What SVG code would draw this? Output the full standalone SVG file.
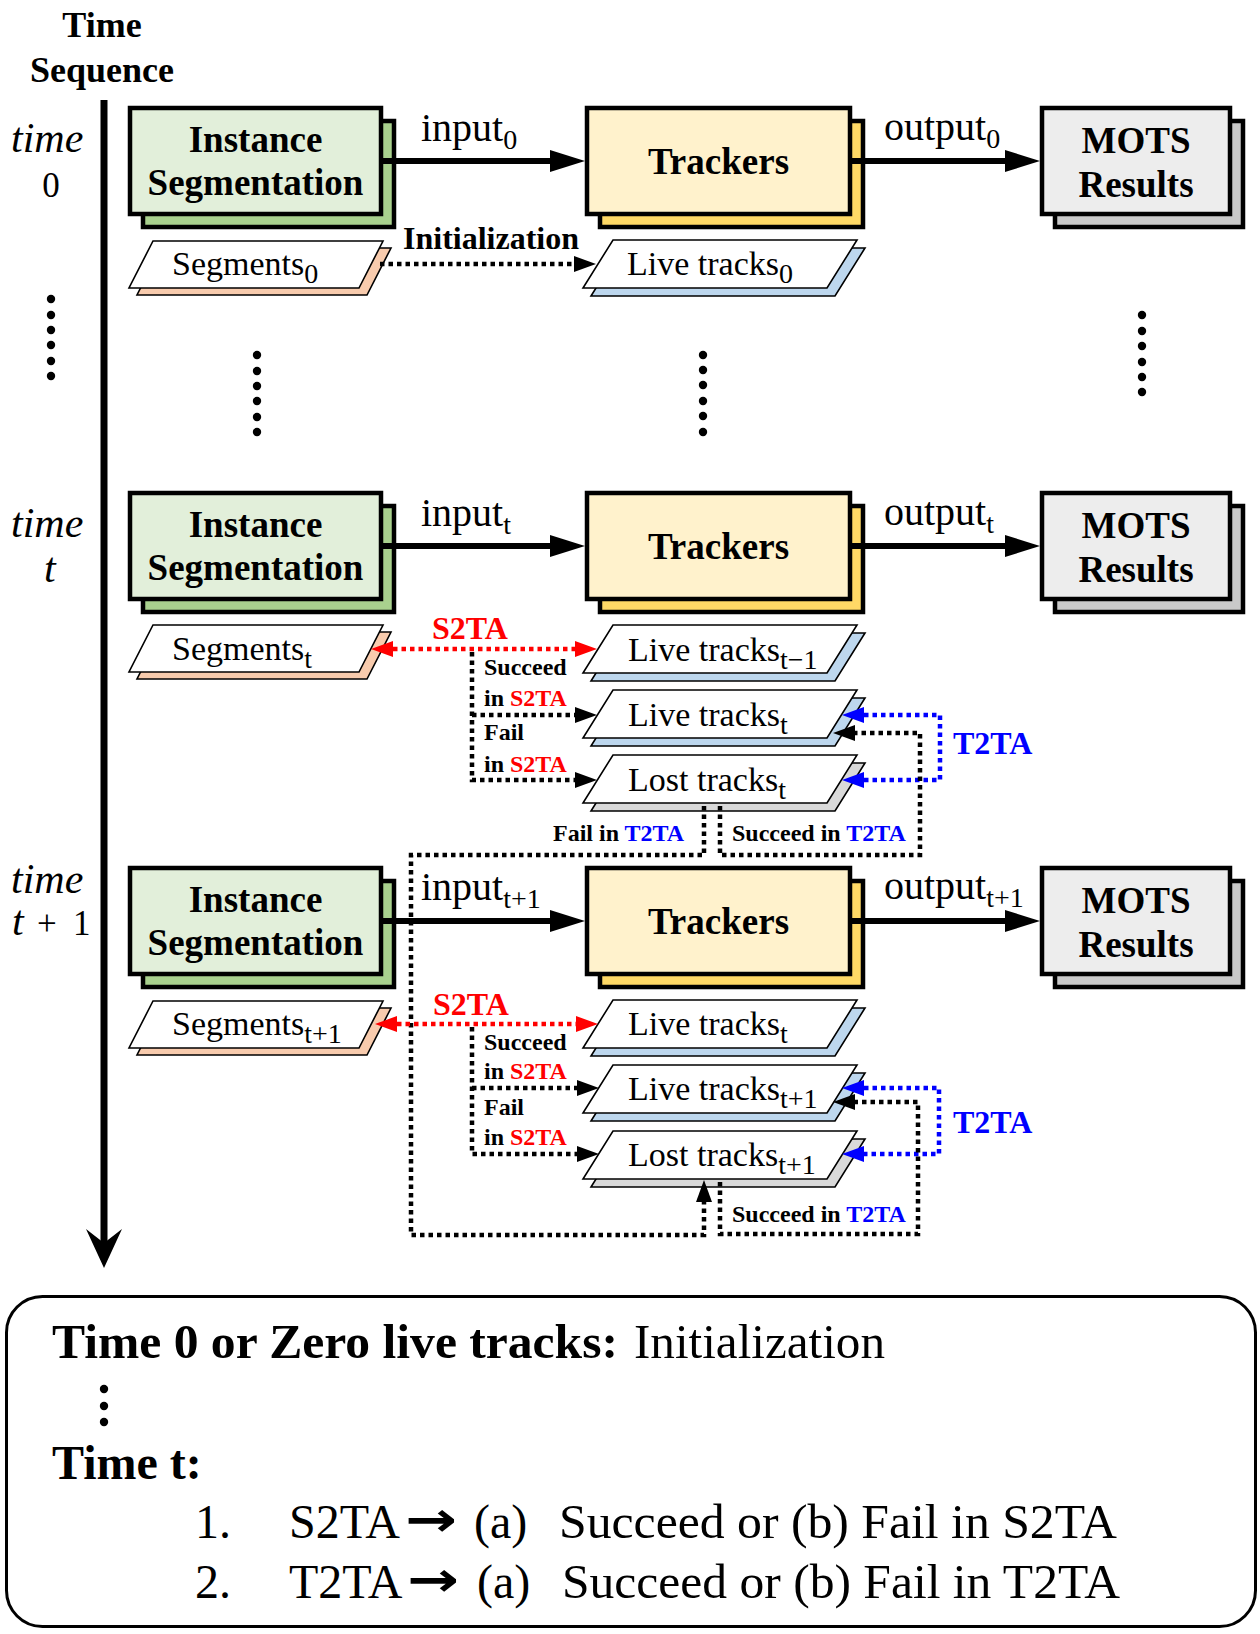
<svg xmlns="http://www.w3.org/2000/svg" width="1260" height="1634" viewBox="0 0 1260 1634">
<style>
.box{stroke:#000;stroke-width:4.5}
.g1{fill:#e2efda}.g2{fill:#a9d18e}
.y1{fill:#fff2cc}.y2{fill:#ffd966}
.m1{fill:#ededed}.m2{fill:#c9c9c9}
.bl{font-family:"Liberation Serif",serif;font-weight:bold;font-size:37px;text-anchor:middle;fill:#000}
.par{stroke:#000;stroke-width:1.6}
.pw{fill:#fff}.pp{fill:#f8cbad}.pb{fill:#bdd7ee}.pg{fill:#d9d9d9}
.pt{font-family:"Liberation Serif",serif;font-size:34px;fill:#000}
.io{font-family:"Liberation Serif",serif;font-size:40px;fill:#000}
.sub{font-size:28px}
.tm{font-family:"Liberation Serif",serif;font-style:italic;font-size:42px;fill:#000}
.num{font-family:"Liberation Serif",serif;font-size:35px;fill:#000}
.hd{font-family:"Liberation Serif",serif;font-weight:bold;font-size:36px;text-anchor:middle;fill:#000}
.thick{stroke:#000;stroke-width:6;fill:none}
.dk{stroke:#000;stroke-width:4.5;stroke-dasharray:4.5 4;fill:none}
.dr{stroke:#ff0000;stroke-width:4.5;stroke-dasharray:4.5 4;fill:none}
.db{stroke:#0000ff;stroke-width:4.5;stroke-dasharray:4.5 4;fill:none}
.sm{font-family:"Liberation Serif",serif;font-weight:bold;font-size:24px;fill:#000}
.lab{font-family:"Liberation Serif",serif;font-weight:bold;font-size:32px}
.red{fill:#ff0000}.blue{fill:#0000ff}
.dot{fill:#000}
.bt{font-family:"Liberation Serif",serif;font-size:48px;fill:#000}
.bb{font-weight:bold}
</style>
<defs>
<marker id="ta" markerUnits="userSpaceOnUse" markerWidth="36" markerHeight="24" refX="0" refY="12" orient="auto"><path d="M0,1 L35,12 L0,23 z" fill="#000"/></marker>
<marker id="ak" markerUnits="userSpaceOnUse" markerWidth="24" markerHeight="18" refX="0" refY="9" orient="auto-start-reverse"><path d="M0,1 L22,9 L0,17 z" fill="#000"/></marker>
<marker id="ar" markerUnits="userSpaceOnUse" markerWidth="24" markerHeight="18" refX="0" refY="9" orient="auto-start-reverse"><path d="M0,1 L22,9 L0,17 z" fill="#ff0000"/></marker>
<marker id="ab" markerUnits="userSpaceOnUse" markerWidth="24" markerHeight="18" refX="0" refY="9" orient="auto-start-reverse"><path d="M0,1 L22,9 L0,17 z" fill="#0000ff"/></marker>
</defs>
<rect width="1260" height="1634" fill="#fff"/>

<g id="timeline">
<text class="hd" x="102" y="37">Time</text>
<text class="hd" x="102" y="82">Sequence</text>
<path d="M104,100 V1248" stroke="#000" stroke-width="7" fill="none"/>
<path d="M104,1268 L86,1229 L104,1243 L122,1229 Z" fill="#000"/>
<text class="tm" x="11" y="152">time</text>
<text class="num" x="51" y="197" text-anchor="middle">0</text>
<text class="tm" x="11" y="537">time</text>
<text class="tm" x="44" y="582" font-size="40">t</text>
<text class="tm" x="11" y="893">time</text>
<text class="tm" x="12" y="935" font-size="40">t</text>
<text class="num" x="37" y="935">+</text>
<text class="num" x="73" y="935">1</text>
</g>

<g id="dots">
<circle class="dot" cx="51" cy="299" r="4.2"/><circle class="dot" cx="51" cy="315" r="4.2"/><circle class="dot" cx="51" cy="330" r="4.2"/><circle class="dot" cx="51" cy="345" r="4.2"/><circle class="dot" cx="51" cy="361" r="4.2"/><circle class="dot" cx="51" cy="376" r="4.2"/>
<circle class="dot" cx="257" cy="355" r="4.2"/><circle class="dot" cx="257" cy="371" r="4.2"/><circle class="dot" cx="257" cy="386" r="4.2"/><circle class="dot" cx="257" cy="401" r="4.2"/><circle class="dot" cx="257" cy="417" r="4.2"/><circle class="dot" cx="257" cy="432" r="4.2"/>
<circle class="dot" cx="703" cy="355" r="4.2"/><circle class="dot" cx="703" cy="370" r="4.2"/><circle class="dot" cx="703" cy="385" r="4.2"/><circle class="dot" cx="703" cy="401" r="4.2"/><circle class="dot" cx="703" cy="416" r="4.2"/><circle class="dot" cx="703" cy="432" r="4.2"/>
<circle class="dot" cx="1142" cy="315" r="4.2"/><circle class="dot" cx="1142" cy="331" r="4.2"/><circle class="dot" cx="1142" cy="346" r="4.2"/><circle class="dot" cx="1142" cy="362" r="4.2"/><circle class="dot" cx="1142" cy="377" r="4.2"/><circle class="dot" cx="1142" cy="392" r="4.2"/>
</g>

<!-- time 0 -->
<g id="seg0">
<rect class="box g2" x="143" y="121" width="251" height="106"/>
<rect class="box g1" x="130" y="108" width="251" height="106"/>
<text class="bl" x="255.5" y="152">Instance</text>
<text class="bl" x="255.5" y="195">Segmentation</text>
</g>
<g id="trk0">
<rect class="box y2" x="600" y="121" width="263" height="106"/>
<rect class="box y1" x="587" y="108" width="263" height="106"/>
<text class="bl" x="718.5" y="174">Trackers</text>
</g>
<g id="mots0">
<rect class="box m2" x="1055" y="121" width="188" height="106"/>
<rect class="box m1" x="1042" y="108" width="188" height="106"/>
<text class="bl" x="1136" y="153">MOTS</text>
<text class="bl" x="1136" y="197">Results</text>
</g>
<g id="segments0">
<polygon class="par pp" points="161,248 391,248 367,295 137,295"/>
<polygon class="par pw" points="153,241 383,241 359,288 129,288"/>
<text class="pt" x="172" y="275">Segments<tspan class="sub" dy="8">0</tspan></text>
</g>
<g id="live0">
<polygon class="par pb" points="621,248 865,248 835,296 591,296"/>
<polygon class="par pw" points="613,240 857,240 827,288 583,288"/>
<text class="pt" x="627" y="275">Live tracks<tspan class="sub" dy="8">0</tspan></text>
</g>

<!-- time t -->
<g id="segT">
<rect class="box g2" x="143" y="506" width="251" height="106"/>
<rect class="box g1" x="130" y="493" width="251" height="106"/>
<text class="bl" x="255.5" y="537">Instance</text>
<text class="bl" x="255.5" y="580">Segmentation</text>
</g>
<g id="trkT">
<rect class="box y2" x="600" y="506" width="263" height="106"/>
<rect class="box y1" x="587" y="493" width="263" height="106"/>
<text class="bl" x="718.5" y="559">Trackers</text>
</g>
<g id="motsT">
<rect class="box m2" x="1055" y="506" width="188" height="106"/>
<rect class="box m1" x="1042" y="493" width="188" height="106"/>
<text class="bl" x="1136" y="538">MOTS</text>
<text class="bl" x="1136" y="582">Results</text>
</g>
<g id="segmentsT">
<polygon class="par pp" points="161,632 391,632 367,679 137,679"/>
<polygon class="par pw" points="153,625 383,625 359,672 129,672"/>
<text class="pt" x="172" y="660">Segments<tspan class="sub" dy="8">t</tspan></text>
</g>
<g id="liveTm1">
<polygon class="par pb" points="621,633 865,633 835,681 591,681"/>
<polygon class="par pw" points="613,625 857,625 827,673 583,673"/>
<text class="pt" x="628" y="661">Live tracks<tspan class="sub" dy="8">t−1</tspan></text>
</g>
<g id="liveT">
<polygon class="par pb" points="621,698 865,698 835,746 591,746"/>
<polygon class="par pw" points="613,690 857,690 827,738 583,738"/>
<text class="pt" x="628" y="726">Live tracks<tspan class="sub" dy="8">t</tspan></text>
</g>
<g id="lostT">
<polygon class="par pg" points="621,763 865,763 835,811 591,811"/>
<polygon class="par pw" points="613,755 857,755 827,803 583,803"/>
<text class="pt" x="628" y="791">Lost tracks<tspan class="sub" dy="8">t</tspan></text>
</g>

<!-- time t+1 -->
<g id="segT1">
<rect class="box g2" x="143" y="881" width="251" height="106"/>
<rect class="box g1" x="130" y="868" width="251" height="106"/>
<text class="bl" x="255.5" y="912">Instance</text>
<text class="bl" x="255.5" y="955">Segmentation</text>
</g>
<g id="trkT1">
<rect class="box y2" x="600" y="881" width="263" height="106"/>
<rect class="box y1" x="587" y="868" width="263" height="106"/>
<text class="bl" x="718.5" y="934">Trackers</text>
</g>
<g id="motsT1">
<rect class="box m2" x="1055" y="881" width="188" height="106"/>
<rect class="box m1" x="1042" y="868" width="188" height="106"/>
<text class="bl" x="1136" y="913">MOTS</text>
<text class="bl" x="1136" y="957">Results</text>
</g>
<g id="segmentsT1">
<polygon class="par pp" points="161,1008 391,1008 367,1055 137,1055"/>
<polygon class="par pw" points="153,1001 383,1001 359,1048 129,1048"/>
<text class="pt" x="172" y="1035">Segments<tspan class="sub" dy="8">t+1</tspan></text>
</g>
<g id="liveT_b">
<polygon class="par pb" points="621,1008 865,1008 835,1056 591,1056"/>
<polygon class="par pw" points="613,1000 857,1000 827,1048 583,1048"/>
<text class="pt" x="628" y="1035">Live tracks<tspan class="sub" dy="8">t</tspan></text>
</g>
<g id="liveT1">
<polygon class="par pb" points="621,1073 865,1073 835,1121 591,1121"/>
<polygon class="par pw" points="613,1065 857,1065 827,1113 583,1113"/>
<text class="pt" x="628" y="1100">Live tracks<tspan class="sub" dy="8">t+1</tspan></text>
</g>
<g id="lostT1">
<polygon class="par pg" points="621,1139 865,1139 835,1187 591,1187"/>
<polygon class="par pw" points="613,1131 857,1131 827,1179 583,1179"/>
<text class="pt" x="628" y="1166">Lost tracks<tspan class="sub" dy="8">t+1</tspan></text>
</g>

<g id="connectors">
<path class="thick" d="M383,161 H550" marker-end="url(#ta)"/>
<path class="thick" d="M852,161 H1005" marker-end="url(#ta)"/>
<path class="thick" d="M383,546 H550" marker-end="url(#ta)"/>
<path class="thick" d="M852,546 H1005" marker-end="url(#ta)"/>
<path class="thick" d="M383,921 H550" marker-end="url(#ta)"/>
<path class="thick" d="M852,921 H1005" marker-end="url(#ta)"/>

<path class="dk" d="M380,264 H574" marker-end="url(#ak)"/>

<path class="dr" d="M393,649 H575" marker-start="url(#ar)" marker-end="url(#ar)"/>
<path class="dk" d="M472,652 V780 H575" marker-end="url(#ak)"/>
<path class="dk" d="M472,715 H575" marker-end="url(#ak)"/>
<path class="db" d="M864,715 H940 V780 H864" marker-start="url(#ab)" marker-end="url(#ab)"/>
<path class="dk" d="M720,806 V855 H920 V733 H855" marker-end="url(#ak)"/>
<path class="dk" d="M704,806 V855 H411 V1235 H704 V1202" marker-end="url(#ak)"/>

<path class="dr" d="M397,1024 H576" marker-start="url(#ar)" marker-end="url(#ar)"/>
<path class="dk" d="M472,1027 V1154 H577" marker-end="url(#ak)"/>
<path class="dk" d="M472,1088 H577" marker-end="url(#ak)"/>
<path class="db" d="M864,1088 H939 V1154 H864" marker-start="url(#ab)" marker-end="url(#ab)"/>
<path class="dk" d="M720,1182 V1234 H918 V1102 H855" marker-end="url(#ak)"/>

<text class="io" x="421" y="141">input<tspan class="sub" dy="8">0</tspan></text>
<text class="io" x="884" y="140">output<tspan class="sub" dy="8">0</tspan></text>
<text class="io" x="421" y="526">input<tspan class="sub" dy="8">t</tspan></text>
<text class="io" x="884" y="525">output<tspan class="sub" dy="8">t</tspan></text>
<text class="io" x="421" y="900">input<tspan class="sub" dy="8">t+1</tspan></text>
<text class="io" x="884" y="899">output<tspan class="sub" dy="8">t+1</tspan></text>

<text class="lab" x="403" y="249" font-size="32" fill="#000">Initialization</text>

<text class="lab red" x="432" y="639">S2TA</text>
<text class="sm" x="484" y="675">Succeed</text>
<text class="sm" x="484" y="706">in <tspan class="red">S2TA</tspan></text>
<text class="sm" x="484" y="740">Fail</text>
<text class="sm" x="484" y="772">in <tspan class="red">S2TA</tspan></text>
<text class="lab blue" x="953" y="754">T2TA</text>
<text class="sm" x="553" y="841">Fail in <tspan class="blue">T2TA</tspan></text>
<text class="sm" x="732" y="841">Succeed in <tspan class="blue">T2TA</tspan></text>

<text class="lab red" x="433" y="1015">S2TA</text>
<text class="sm" x="484" y="1050">Succeed</text>
<text class="sm" x="484" y="1079">in <tspan class="red">S2TA</tspan></text>
<text class="sm" x="484" y="1115">Fail</text>
<text class="sm" x="484" y="1145">in <tspan class="red">S2TA</tspan></text>
<text class="lab blue" x="953" y="1133">T2TA</text>
<text class="sm" x="732" y="1222">Succeed in <tspan class="blue">T2TA</tspan></text>
</g>

<g id="legend">
<rect x="6.5" y="1296.5" width="1249" height="330" rx="36" fill="none" stroke="#000" stroke-width="3"/>
<text class="bt bb" x="52" y="1358" textLength="566" lengthAdjust="spacingAndGlyphs">Time 0 or Zero live tracks:</text>
<text class="bt" x="634" y="1358" textLength="251" lengthAdjust="spacingAndGlyphs">Initialization</text>
<circle class="dot" cx="104" cy="1389" r="4.2"/><circle class="dot" cx="104" cy="1406" r="4.2"/><circle class="dot" cx="104" cy="1422" r="4.2"/>
<text class="bt bb" x="52" y="1479">Time t:</text>
<text class="bt" x="195" y="1538">1.</text>
<text class="bt" x="289" y="1538">S2TA</text>
<text x="405" y="1536" font-family="DejaVu Sans,sans-serif" font-weight="bold" font-size="48" textLength="52" lengthAdjust="spacingAndGlyphs">→</text>
<text class="bt" x="474" y="1538">(a)</text>
<text class="bt" x="559" y="1538" textLength="558" lengthAdjust="spacingAndGlyphs">Succeed or (b) Fail in S2TA</text>
<text class="bt" x="195" y="1598">2.</text>
<text class="bt" x="289" y="1598">T2TA</text>
<text x="407" y="1596" font-family="DejaVu Sans,sans-serif" font-weight="bold" font-size="48" textLength="52" lengthAdjust="spacingAndGlyphs">→</text>
<text class="bt" x="477" y="1598">(a)</text>
<text class="bt" x="562" y="1598" textLength="558" lengthAdjust="spacingAndGlyphs">Succeed or (b) Fail in T2TA</text>
</g>
</svg>
